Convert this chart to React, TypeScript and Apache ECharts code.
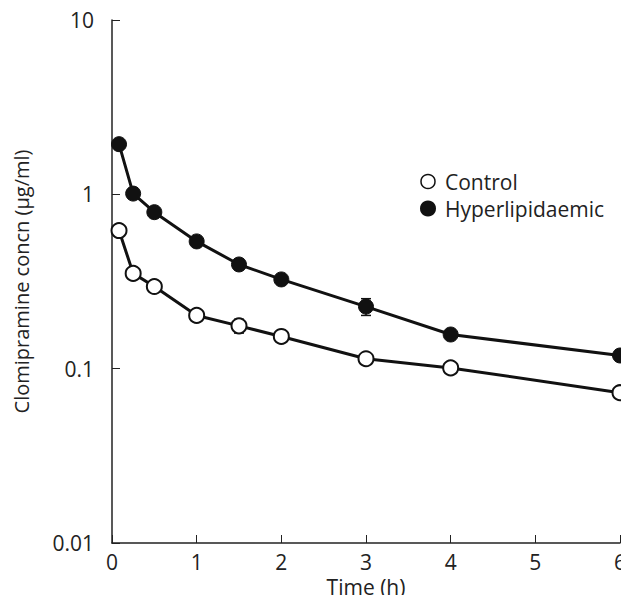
import React, { useEffect, useRef } from "react";
import * as echarts from "echarts";

const times = [0.083, 0.25, 0.5, 1, 1.5, 2, 3, 4, 6];
const controlValues = [0.62, 0.352, 0.296, 0.202, 0.176, 0.153, 0.114, 0.101, 0.0728];
const hyperValues = [1.94, 1.01, 0.79, 0.537, 0.396, 0.325, 0.227, 0.157, 0.119];
const controlErr = [0, 0, 0, 0.012, 0.016, 0, 0, 0, 0.005];
const hyperErr = [0, 0, 0, 0, 0, 0, 0.025, 0, 0];
const yTicks = [0.01, 0.1, 1, 10];

const FONT = "Open Sans";
const FS = 21;

export default function App() {
  const ref = useRef<HTMLDivElement>(null);
  useEffect(() => {
    if (!ref.current) return;
    const chart = echarts.init(ref.current, null, { renderer: "svg" });
    const errData: number[][] = [];
    times.forEach((t, i) => {
      if (hyperErr[i] > 0) errData.push([t, hyperValues[i] - hyperErr[i], hyperValues[i] + hyperErr[i]]);
      if (controlErr[i] > 0) errData.push([t, controlValues[i] - controlErr[i], controlValues[i] + controlErr[i]]);
    });
    chart.setOption({
      animation: false,
      backgroundColor: "#fff",
      grid: { left: 112, right: 4, top: 20, bottom: 60, containLabel: false },
      legend: {
        orient: "vertical",
        left: 415,
        top: 166,
        itemGap: 6,
        itemWidth: 14,
        itemHeight: 14,
        textStyle: { fontFamily: FONT, fontSize: FS, lineHeight: 20, color: "#222", padding: [0, 0, 0, 5] },
        data: [
          { name: "Control", icon: "circle", itemStyle: { color: "#fff", borderColor: "#111", borderWidth: 1.5 } },
          { name: "Hyperlipidaemic", icon: "circle", itemStyle: { color: "#111", borderColor: "#111" } },
        ],
      },
      xAxis: {
        type: "value",
        min: 0,
        max: 6,
        interval: 1,
        name: "Time (h)",
        nameLocation: "middle",
        nameGap: 33,
        nameTextStyle: { fontFamily: FONT, fontSize: FS, color: "#222" },
        axisLine: { lineStyle: { color: "#222", width: 1.5 } },
        axisTick: { inside: true, length: 8, lineStyle: { color: "#222", width: 1 } },
        axisLabel: { fontFamily: FONT, fontSize: FS, color: "#222", margin: 8 },
        splitLine: { show: false },
      },
      yAxis: {
        type: "log",
        logBase: 10,
        min: 0.01,
        max: 10,
        name: "Clomipramine concn (μg/ml)",
        nameLocation: "middle",
        nameGap: 81,
        nameTextStyle: { fontFamily: FONT, fontSize: 20, color: "#222" },
        axisLine: { lineStyle: { color: "#222", width: 1.5 } },
        axisTick: { inside: true, length: 8, lineStyle: { color: "#222", width: 1 } },
        axisLabel: {
          fontFamily: FONT,
          fontSize: FS,
          color: "#222",
          margin: 18,
          formatter: (v: number) => {
            const m = yTicks.find((t) => Math.abs(t - v) / t < 1e-6);
            return m !== undefined ? String(m) : "";
          },
        },
        splitLine: { show: false },
        minorTick: { show: false },
      },
      series: [
        {
          name: "Control",
          type: "line",
          data: times.map((t, i) => [t, controlValues[i]]),
          symbol: "circle",
          symbolSize: 15,
          lineStyle: { color: "#111", width: 3 },
          itemStyle: { color: "#fff", borderColor: "#111", borderWidth: 2 },
          z: 3,
          clip: false,
        },
        {
          name: "Hyperlipidaemic",
          type: "line",
          data: times.map((t, i) => [t, hyperValues[i]]),
          symbol: "circle",
          symbolSize: 15,
          lineStyle: { color: "#111", width: 3 },
          itemStyle: { color: "#111", borderColor: "#111", borderWidth: 1 },
          z: 3,
          clip: false,
        },
        {
          type: "custom",
          z: 2,
          data: errData,
          renderItem: (params: any, api: any) => {
            const x = api.value(0);
            const lo = api.coord([x, api.value(1)]);
            const hi = api.coord([x, api.value(2)]);
            const w = 5;
            return {
              type: "group",
              children: [
                { type: "line", shape: { x1: lo[0], y1: lo[1], x2: hi[0], y2: hi[1] }, style: { stroke: "#111", lineWidth: 1.5 } },
                { type: "line", shape: { x1: lo[0] - w, y1: lo[1], x2: lo[0] + w, y2: lo[1] }, style: { stroke: "#111", lineWidth: 1.5 } },
                { type: "line", shape: { x1: hi[0] - w, y1: hi[1], x2: hi[0] + w, y2: hi[1] }, style: { stroke: "#111", lineWidth: 1.5 } },
              ],
            };
          },
        },
      ],
    });
    return () => chart.dispose();
  }, []);
  return <div ref={ref} style={{ width: 629, height: 603, margin: -8 }} />;
}
